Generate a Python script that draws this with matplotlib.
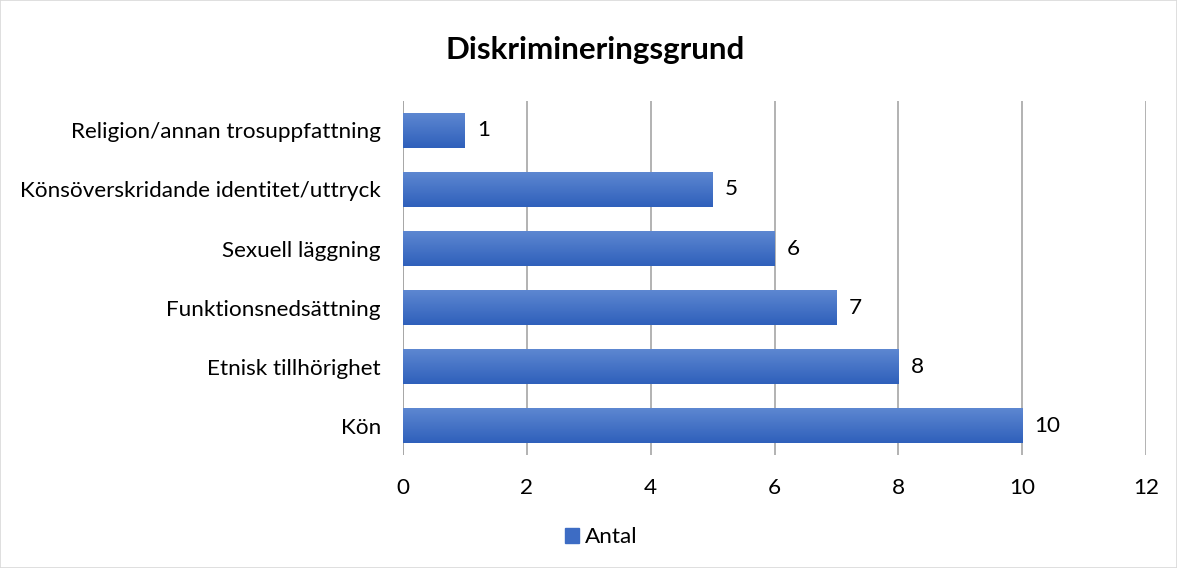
import numpy as np
import matplotlib.pyplot as plt
from matplotlib.colors import LinearSegmentedColormap
from matplotlib.patches import Rectangle

categories = ["Religion/annan trosuppfattning",
              "Könsöverskridande identitet/uttryck",
              "Sexuell läggning",
              "Funktionsnedsättning",
              "Etnisk tillhörighet",
              "Kön"]
values = [1, 5, 6, 7, 8, 10]
xticks = [0, 2, 4, 6, 8, 10, 12]

plt.rcParams['font.family'] = ['Lato', 'DejaVu Sans']
fs = 16.2

fig = plt.figure(figsize=(11.77, 5.68), dpi=100)
fig.patches.append(Rectangle((0, 0), 1, 1, transform=fig.transFigure,
                             fill=False, edgecolor='#d9d9d9', linewidth=1.2))
ax = fig.add_axes([0.3424, 0.1989, 0.6313, 0.6233])

y = np.arange(len(categories))[::-1]
bars = ax.barh(y, values, height=0.59, color='#4472c4', zorder=2)

# vertical gradient like the original bars
cmap = LinearSegmentedColormap.from_list('g', ['#2f60bb', '#5d87d1'])
grad = np.linspace(0, 1, 100).reshape(-1, 1)
for b in bars:
    x0, y0 = b.get_x(), b.get_y()
    w, h = b.get_width(), b.get_height()
    im = ax.imshow(grad, cmap=cmap, aspect='auto', origin='lower',
                   extent=[x0, x0 + w, y0, y0 + h], zorder=3)
    im.set_clip_path(b)

for yi, v in zip(y, values):
    ax.text(v + 0.2, yi, str(v), va='center', ha='left', fontsize=fs)

ax.set_xlim(0, 12)
ax.set_ylim(-0.5, 5.5)
ax.set_xticks(xticks)
ax.set_yticks(y)
ax.set_yticklabels(categories)
ax.tick_params(axis='both', length=0, labelsize=fs)
ax.tick_params(axis='x', pad=16.5)
ax.tick_params(axis='y', pad=16)
ax.xaxis.grid(True, color='#a6a6a6', linewidth=1.2, zorder=0)
ax.set_axisbelow(True)
for s in ax.spines.values():
    s.set_visible(False)
ax.axvline(0, color='#a6a6a6', linewidth=1.2, zorder=1)

fig.text(0.5055, 0.912, "Diskrimineringsgrund", ha='center', va='center',
         fontsize=22.5, fontweight='bold')

leg = fig.legend([Rectangle((0, 0), 1, 1, color='#3d6cc4')], ["Antal"],
                 loc='center', bbox_to_anchor=(0.511, 0.054), frameon=False,
                 fontsize=fs, handlelength=0.6, handleheight=0.6,
                 handletextpad=0.3)

fig.savefig('out.png', dpi=100)
